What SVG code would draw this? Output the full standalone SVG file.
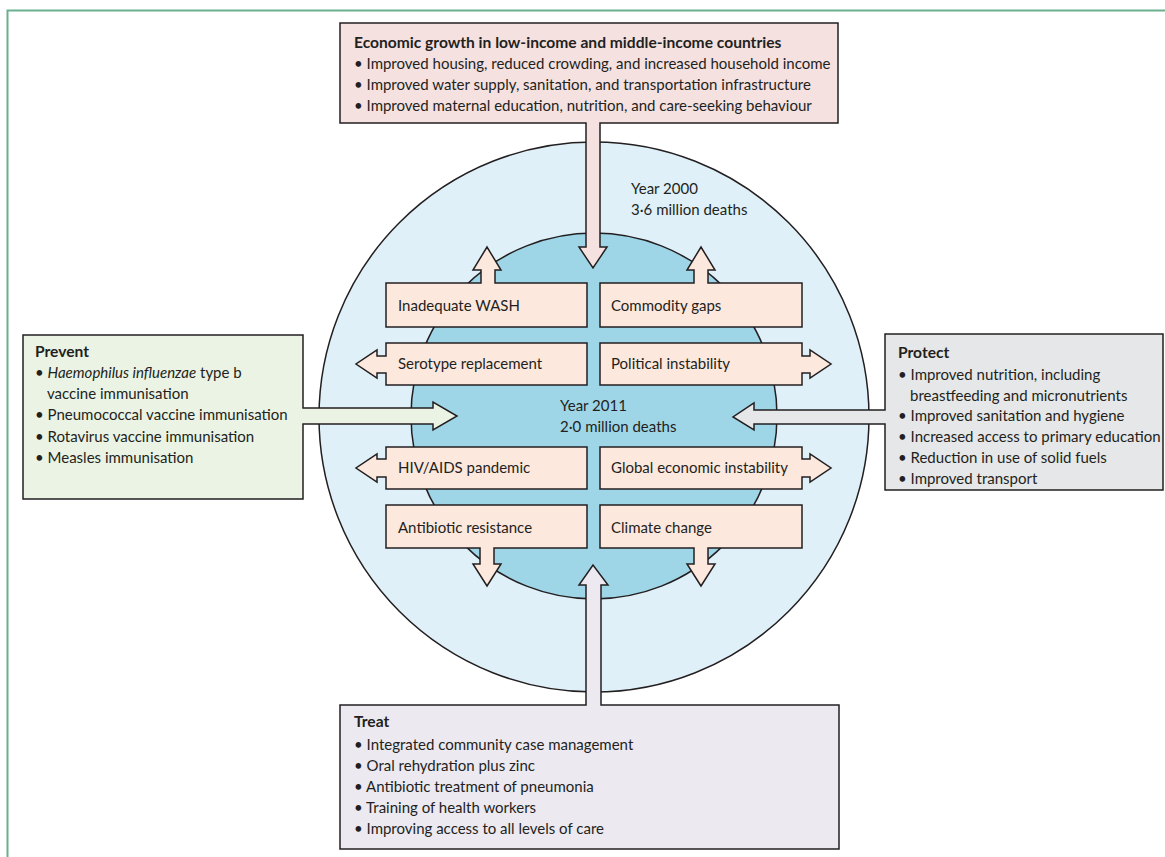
<svg xmlns="http://www.w3.org/2000/svg" width="1165" height="857" viewBox="0 0 1165 857">
<style>
text{font-family:Lato,"Liberation Sans",sans-serif;font-size:15px;fill:#231f20}
.b{font-weight:bold;font-size:15.6px}
.sh{stroke:#231f20;stroke-width:1.5;stroke-linejoin:miter}
.inner{fill:#fde8de}
</style>
<rect x="0" y="0" width="1165" height="857" fill="#ffffff"/>
<path d="M7.5,857 V10.5 H1165" fill="none" stroke="#6ab08f" stroke-width="2"/>
<g id="circles">
<circle cx="594" cy="417" r="275" fill="#dff0f8" stroke="#231f20" stroke-width="1.5"/>
<circle cx="594" cy="416" r="183" fill="#9ed6e8" stroke="#231f20" stroke-width="1.5"/>
<text x="631" y="194">Year 2000</text>
<text x="631" y="215">3·6 million deaths</text>
<text x="560" y="411">Year 2011</text>
<text x="560" y="432">2·0 million deaths</text>
</g>
<g id="connectors">
<g id="economic">
<path class="sh" fill="#f5e1e0" d="M340,23 H838 V123 H600 V247 H607 L593,268 L579,247 H586 V123 H340 Z"/>
<text class="b" x="354" y="48">Economic growth in low-income and middle-income countries</text>
<text x="354" y="69">• Improved housing, reduced crowding, and increased household income</text>
<text x="354" y="90">• Improved water supply, sanitation, and transportation infrastructure</text>
<text x="354" y="111">• Improved maternal education, nutrition, and care-seeking behaviour</text>
</g>
<g id="prevent">
<path class="sh" fill="#eaf3e4" d="M23,335 H303 V408 H433 V402 L457,416 L433,430 V424 H303 V499 H23 Z"/>
<text class="b" x="35" y="357">Prevent</text>
<text x="35" y="378">• <tspan font-style="italic">Haemophilus influenzae</tspan> type b</text>
<text x="47" y="399">vaccine immunisation</text>
<text x="35" y="420">• Pneumococcal vaccine immunisation</text>
<text x="35" y="442">• Rotavirus vaccine immunisation</text>
<text x="35" y="463">• Measles immunisation</text>
</g>
<g id="protect">
<path class="sh" fill="#e6e7e8" d="M885,334 H1163 V490 H885 V424 H754 V430 L733,417 L754,403 V410 H885 Z"/>
<text class="b" x="898" y="358">Protect</text>
<text x="898" y="380">• Improved nutrition, including</text>
<text x="910" y="401">breastfeeding and micronutrients</text>
<text x="898" y="421">• Improved sanitation and hygiene</text>
<text x="898" y="442">• Increased access to primary education</text>
<text x="898" y="463">• Reduction in use of solid fuels</text>
<text x="898" y="484">• Improved transport</text>
</g>
<g id="treat">
<path class="sh" fill="#ece9f1" d="M340,705 H586 V585 H579 L593,565 L608,585 H601 V705 H839 V849 H340 Z"/>
<text class="b" x="354" y="727">Treat</text>
<text x="354" y="750">• Integrated community case management</text>
<text x="354" y="771">• Oral rehydration plus zinc</text>
<text x="354" y="792">• Antibiotic treatment of pneumonia</text>
<text x="354" y="813">• Training of health workers</text>
<text x="354" y="834">• Improving access to all levels of care</text>
</g>
</g>
<g id="wash">
<path class="sh inner" d="M386,283 H481 V270 H473 L487,247 L501,270 H495 V283 H587 V327 H386 Z"/>
<text x="398" y="311">Inadequate WASH</text>
</g>
<g id="commodity">
<path class="sh inner" d="M600,283 H694 V270 H687 L701,247 L715,270 H708 V283 H802 V327 H600 Z"/>
<text x="611" y="311">Commodity gaps</text>
</g>
<g id="serotype">
<path class="sh inner" d="M386,343 H587 V385 H386 V373 H377 V378 L356,364 L377,350 V356 H386 Z"/>
<text x="398" y="369">Serotype replacement</text>
</g>
<g id="political">
<path class="sh inner" d="M600,343 H802 V356 H810 V350 L831,364 L810,378 V373 H802 V385 H600 Z"/>
<text x="611" y="369">Political instability</text>
</g>
<g id="hiv">
<path class="sh inner" d="M386,447 H587 V489 H386 V477 H377 V482 L356,468 L377,454 V459 H386 Z"/>
<text x="398" y="473">HIV/AIDS pandemic</text>
</g>
<g id="global">
<path class="sh inner" d="M600,447 H802 V459 H810 V454 L831,468 L810,482 V477 H802 V489 H600 Z"/>
<text x="611" y="473">Global economic instability</text>
</g>
<g id="antibiotic">
<path class="sh inner" d="M386,505 H587 V548 H494 V564 H501 L487,586 L473,564 H480 V548 H386 Z"/>
<text x="398" y="533">Antibiotic resistance</text>
</g>
<g id="climate">
<path class="sh inner" d="M600,505 H802 V548 H708 V564 H715 L701,586 L687,564 H694 V548 H600 Z"/>
<text x="611" y="533">Climate change</text>
</g>
</svg>
